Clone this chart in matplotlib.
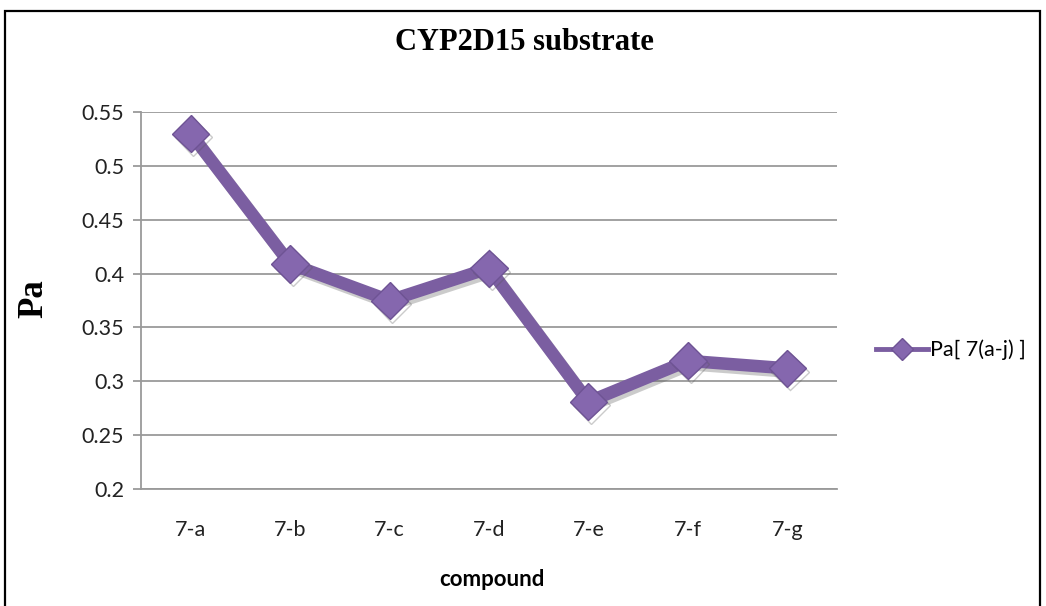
import matplotlib
matplotlib.use("Agg")
import matplotlib.pyplot as plt
import matplotlib.patheffects as pe
from matplotlib.patches import Rectangle

categories = ["7-a", "7-b", "7-c", "7-d", "7-e", "7-f", "7-g"]
pa_values = [0.530, 0.409, 0.375, 0.405, 0.281, 0.319, 0.312]
y_ticks = [0.2, 0.25, 0.3, 0.35, 0.4, 0.45, 0.5, 0.55]
y_tick_labels = ["0.2", "0.25", "0.3", "0.35", "0.4", "0.45", "0.5", "0.55"]
series_label = "Pa[ 7(a-j) ]"

W, H = 1046, 606
fig = plt.figure(figsize=(W / 100, H / 100), dpi=100)
fig.patch.set_facecolor("white")

# outer frame
fig.add_artist(Rectangle((5 / W, -0.05), (1040 - 5) / W, 1.05 - 11 / H,
                         transform=fig.transFigure, fill=False,
                         edgecolor="black", linewidth=1.6))

ax = fig.add_axes([141 / W, 1 - 489 / H, (837 - 141) / W, (489 - 112) / H])
xs = list(range(len(categories)))
purple = "#7B5EA1"
line, = ax.plot(xs, pa_values, color=purple, linewidth=9, marker="D",
                markersize=19, markerfacecolor="#8567AE", markeredgecolor="#6E5394",
                markeredgewidth=1, label=series_label, zorder=3,
                solid_joinstyle="miter")
line.set_path_effects([pe.SimpleLineShadow(offset=(2, -2.5), shadow_color="#555555", alpha=0.3),
                       pe.Normal()])

ax.set_xlim(-0.5, len(categories) - 0.5)
ax.set_ylim(0.2, 0.55)
ax.set_yticks(y_ticks)
ax.set_yticklabels(y_tick_labels)
ax.set_xticks(xs)
ax.set_xticklabels(categories)
ax.yaxis.grid(True, color="#9a9a9a", linewidth=1.3)
ax.set_axisbelow(True)
for s in ["top", "right"]:
    ax.spines[s].set_visible(False)
ax.spines["left"].set_color("#9a9a9a")
ax.spines["left"].set_linewidth(1.3)
ax.spines["bottom"].set_color("#9a9a9a")
ax.spines["bottom"].set_linewidth(1.3)
ax.tick_params(axis="y", length=6, width=1.3, color="#9a9a9a", pad=6,
               labelsize=15.5, labelcolor="#222222")
ax.tick_params(axis="x", length=0, pad=22, labelsize=15.5, labelcolor="#222222")
for t in ax.get_xticklabels() + ax.get_yticklabels():
    t.set_family("Lato")

fig.text(524 / W, 1 - 43 / H, "CYP2D15 substrate", ha="center", va="center",
         fontsize=22, fontweight="bold", family="Liberation Serif")
fig.text(34 / W, 1 - 299 / H, "Pa", ha="center", va="center", rotation=90,
         fontsize=25, fontweight="bold", family="Liberation Serif")
fig.text(492 / W, 1 - 580 / H, "compound", ha="center", va="center",
         fontsize=16, fontweight="bold", family="Lato")

leg = fig.legend(handles=[line], labels=[series_label], loc="center left",
                 bbox_to_anchor=(857 / W, 1 - 350 / H), frameon=False,
                 handlelength=2.4, handletextpad=0.1, markerscale=0.6,
                 prop={"family": "Lato", "size": 15.5})
for lh in leg.legend_handles:
    lh.set_linewidth(3.5)
    lh.set_path_effects([])

fig.savefig("out.png", dpi=100, facecolor="white")
